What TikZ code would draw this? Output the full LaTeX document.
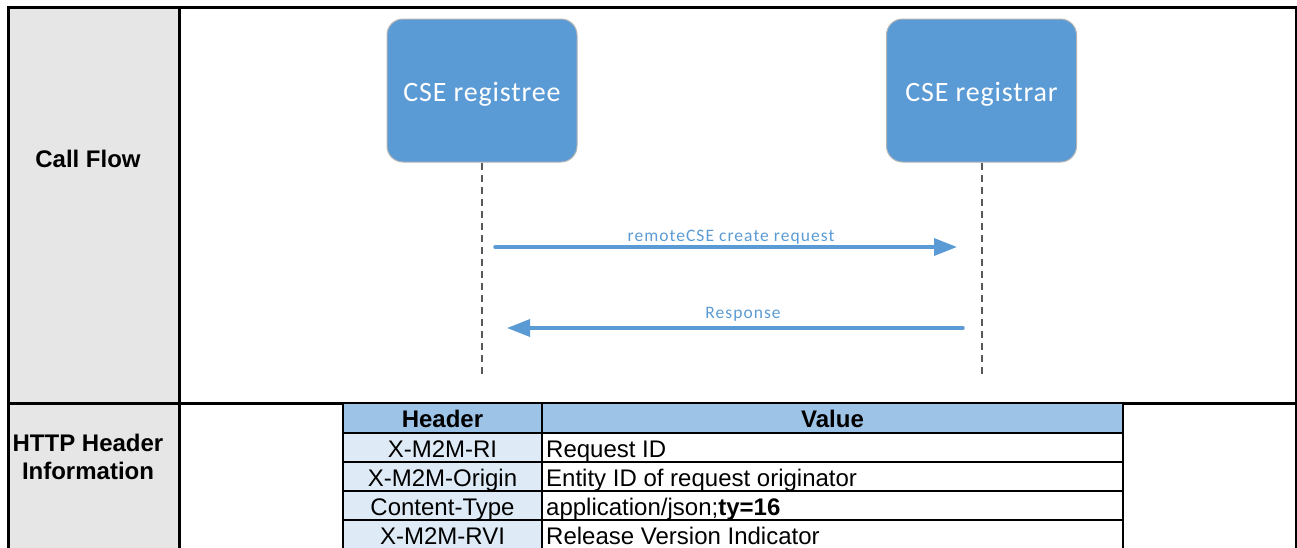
\documentclass[tikz,border=0pt]{standalone}
\usepackage{fontspec}
\setmainfont{Liberation Sans}
\newfontfamily\calfont[LetterSpace=3]{Carlito}
\newfontfamily\msgfont[LetterSpace=6]{Carlito}
\usetikzlibrary{arrows.meta}
\definecolor{cseblue}{HTML}{5B9BD5}
\definecolor{cellgray}{HTML}{E6E6E6}
\definecolor{headblue}{HTML}{9DC3E6}
\definecolor{keyblue}{HTML}{DEEBF7}
\definecolor{lifegray}{HTML}{595959}
\definecolor{edgegray}{HTML}{B4B4B4}

\begin{document}
\begin{tikzpicture}[x=1pt,y=-1pt,
  entity/.style={draw=edgegray, line width=1pt, fill=cseblue, rounded corners=16pt,
    minimum width=190pt, minimum height=143pt, inner sep=0pt, text=white,
    text height=21pt, text depth=0pt,
    font=\calfont\fontsize{28}{33}\selectfont},
  lifeline/.style={draw=lifegray, line width=2pt, dash pattern=on 7pt off 5pt},
  msg/.style={draw=cseblue, line width=3.5pt, line cap=round,
    -{Triangle[length=23pt,width=17pt]}},
  msglabel/.style={text=cseblue, font=\msgfont\fontsize{17.5}{20}\selectfont,
    anchor=base, inner sep=0pt},
  rowlabel/.style={font=\bfseries\fontsize{24}{28}\selectfont, anchor=base, inner sep=0pt},
  tblline/.style={line width=2.5pt},
  frameline/.style={line width=3pt},
  cell/.style={font=\fontsize{24}{28}\selectfont, anchor=base, inner sep=0pt},
  headcell/.style={cell, font=\bfseries\fontsize{24}{28}\selectfont},
  valcell/.style={cell, anchor=base west},
]
\useasboundingbox (0,0) rectangle (1297,547);

% left heading column and outer frame
\fill[cellgray] (8,7) rectangle (179,552);
\draw[frameline] (8,7) rectangle (1296,552);
\draw[frameline] (179,7) -- (179,552);
\draw[frameline] (8,403) -- (1296,403);

% row headings
\node[rowlabel] (callflow) at (88,167) {Call Flow};
\node[rowlabel] (httpA) at (88,451) {HTTP Header};
\node[rowlabel] (httpB) at (88,479) {Information};

% entities and lifelines
\node[entity] (ree) at (482,90.5) {CSE registree};
\node[entity] (rar) at (981.5,90.5) {CSE registrar};
\coordinate (reeEnd) at (482,375);
\coordinate (rarEnd) at (981.5,375);
\draw[lifeline] (ree.south) -- (reeEnd);
\draw[lifeline] (rar.south) -- (rarEnd);

% messages
\coordinate (reqFrom) at (495,247);
\coordinate (reqTo) at (957,247);
\coordinate (rspFrom) at (963,328);
\coordinate (rspTo) at (507,328);
\draw[msg] (reqFrom) -- (reqTo);
\draw[msg] (rspFrom) -- (rspTo);
\node[msglabel] (reqLbl) at (731,241) {remoteCSE create request};
\node[msglabel] (rspLbl) at (743,318) {Response};

% header table
\fill[headblue] (343,403) rectangle (1123,433);
\fill[keyblue] (343,433) rectangle (542,552);
\foreach \y in {403,433,462,491,520}
  \draw[tblline] (343,\y) -- (1123,\y);
\foreach \x in {343,542,1123}
  \draw[tblline] (\x,403) -- (\x,552);

\node[headcell] (hKey) at (442.5,427) {Header};
\node[headcell] (hVal) at (832.5,427) {Value};

\node[cell] (k1) at (442.5,457.5) {X-M2M-RI};
\node[cell] (k2) at (442.5,486.5) {X-M2M-Origin};
\node[cell] (k3) at (442.5,515.5) {Content-Type};
\node[cell] (k4) at (442.5,544) {X-M2M-RVI};

\node[valcell] (v1) at (546,457.5) {Request ID};
\node[valcell] (v2) at (546,486.5) {Entity ID of request originator};
\node[valcell] (v3) at (546,515.5) {application/json;\textbf{ty=16}};
\node[valcell] (v4) at (546,544) {Release Version Indicator};
\end{tikzpicture}
\end{document}
